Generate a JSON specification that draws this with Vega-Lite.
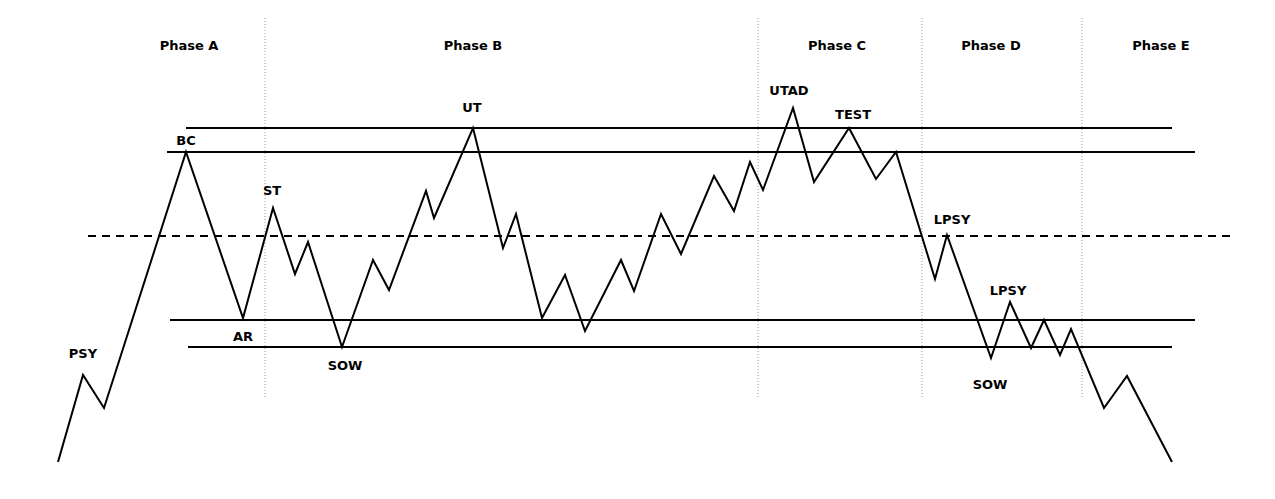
{
"$schema":"https://vega.github.io/schema/vega-lite/v6.json",
"width":1275,"height":499,"padding":0,
"autosize":{"type":"fit","contains":"padding"},
"config":{"view":{"stroke":null}},
"datasets":{
"path":[{"i":0,"x":58,"y":462},{"i":1,"x":83,"y":375},{"i":2,"x":104,"y":408},{"i":3,"x":186,"y":152},{"i":4,"x":243,"y":318},{"i":5,"x":273,"y":208},{"i":6,"x":295,"y":274},{"i":7,"x":308,"y":242},{"i":8,"x":342,"y":347},{"i":9,"x":373,"y":260},{"i":10,"x":389,"y":290},{"i":11,"x":426,"y":191},{"i":12,"x":434,"y":218},{"i":13,"x":473,"y":128},{"i":14,"x":503,"y":248},{"i":15,"x":516,"y":214},{"i":16,"x":542,"y":318},{"i":17,"x":565,"y":275},{"i":18,"x":585,"y":331},{"i":19,"x":621,"y":260},{"i":20,"x":634,"y":291},{"i":21,"x":661,"y":214},{"i":22,"x":681,"y":254},{"i":23,"x":714,"y":176},{"i":24,"x":734,"y":211},{"i":25,"x":750,"y":162},{"i":26,"x":763,"y":190},{"i":27,"x":793,"y":108},{"i":28,"x":814,"y":182},{"i":29,"x":849,"y":128},{"i":30,"x":876,"y":179},{"i":31,"x":896,"y":152},{"i":32,"x":935,"y":279},{"i":33,"x":947,"y":235},{"i":34,"x":991,"y":358},{"i":35,"x":1010,"y":302},{"i":36,"x":1031,"y":348},{"i":37,"x":1044,"y":320},{"i":38,"x":1060,"y":355},{"i":39,"x":1071,"y":329},{"i":40,"x":1104,"y":408},{"i":41,"x":1127,"y":376},{"i":42,"x":1172,"y":462}],
"hlines":[{"x":186,"x2":1172,"y":128,"dash":"solid"},{"x":167,"x2":1195,"y":152,"dash":"solid"},{"x":88,"x2":1230,"y":236,"dash":"dashed"},{"x":170,"x2":1195,"y":320,"dash":"solid"},{"x":188,"x2":1172,"y":347,"dash":"solid"}],
"vlines":[{"x":265},{"x":758},{"x":922},{"x":1082}],
"labels":[{"t":"Phase A","x":189,"y":46},{"t":"Phase B","x":473,"y":46},{"t":"Phase C","x":837,"y":46},{"t":"Phase D","x":991,"y":46},{"t":"Phase E","x":1161,"y":46},{"t":"PSY","x":83,"y":354},{"t":"BC","x":186,"y":141},{"t":"ST","x":272,"y":191},{"t":"AR","x":243,"y":337},{"t":"SOW","x":345,"y":366},{"t":"UT","x":472,"y":108},{"t":"UTAD","x":789,"y":91},{"t":"TEST","x":853,"y":115},{"t":"LPSY","x":952,"y":220},{"t":"LPSY","x":1008,"y":291},{"t":"SOW","x":990,"y":385}]
},
"layer":[
{"data":{"name":"vlines"},"mark":{"type":"rule","color":"#999","strokeDash":[1,2],"strokeWidth":1},
 "encoding":{"x":{"field":"x","type":"quantitative","scale":{"domain":[0,1275]},"axis":null},"y":{"datum":18,"type":"quantitative","scale":{"domain":[499,0]},"axis":null},"y2":{"datum":398}}},
{"data":{"name":"hlines"},"mark":{"type":"rule","color":"black","strokeWidth":2},
 "encoding":{"x":{"field":"x","type":"quantitative","scale":{"domain":[0,1275]},"axis":null},"x2":{"field":"x2"},"y":{"field":"y","type":"quantitative","scale":{"domain":[499,0]},"axis":null},
 "strokeDash":{"field":"dash","type":"nominal","scale":{"domain":["solid","dashed"],"range":[[1,0],[8,6]]},"legend":null}}},
{"data":{"name":"path"},"mark":{"type":"line","color":"black","strokeWidth":2},
 "encoding":{"x":{"field":"x","type":"quantitative","scale":{"domain":[0,1275]},"axis":null},"y":{"field":"y","type":"quantitative","scale":{"domain":[499,0]},"axis":null},"order":{"field":"i"}}},
{"data":{"name":"labels"},"mark":{"type":"text","font":"DejaVu Sans","fontWeight":"bold","fontSize":13,"color":"black"},
 "encoding":{"x":{"field":"x","type":"quantitative","scale":{"domain":[0,1275]},"axis":null},"y":{"field":"y","type":"quantitative","scale":{"domain":[499,0]},"axis":null},"text":{"field":"t"}}}
]
}
